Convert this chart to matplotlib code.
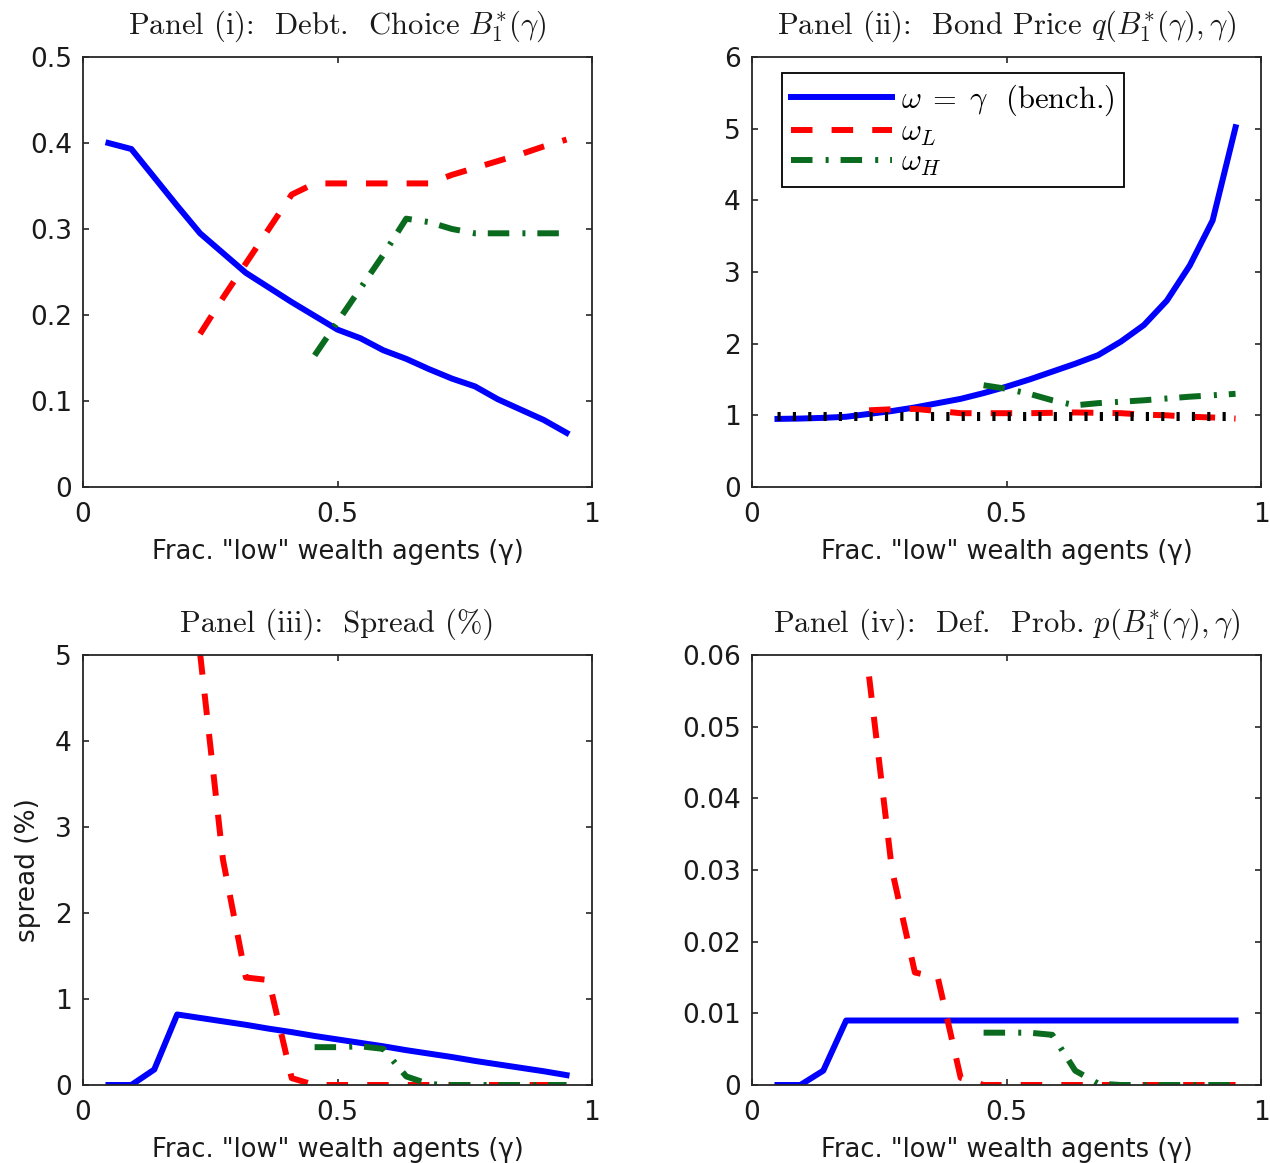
import matplotlib.pyplot as plt
import numpy as np

plt.rcParams['mathtext.fontset'] = 'cm'
plt.rcParams['font.family'] = 'DejaVu Sans'

# grid of gamma values (fraction of "low" wealth agents)
gamma = [0.05, 0.095, 0.14, 0.185, 0.23, 0.275, 0.32, 0.365, 0.41, 0.455, 0.5,
         0.545, 0.59, 0.635, 0.68, 0.725, 0.77, 0.815, 0.86, 0.905, 0.95]
gamma_L = gamma[4:]   # omega_L solved from gamma = 0.23
gamma_H = gamma[9:]   # omega_H solved from gamma = 0.455

# Panel (i): debt choice
debt_bench = [0.400, 0.393, 0.360, 0.327, 0.295, 0.272, 0.249, 0.232, 0.215, 0.199, 0.183,
              0.173, 0.159, 0.149, 0.137, 0.126, 0.117, 0.102, 0.090, 0.078, 0.063]
debt_L = [0.178, 0.220, 0.260, 0.300, 0.340, 0.353, 0.353, 0.353, 0.353, 0.353, 0.353,
          0.363, 0.371, 0.379, 0.387, 0.396, 0.404]
debt_H = [0.153, 0.192, 0.231, 0.270, 0.312, 0.308, 0.300, 0.295, 0.295, 0.295, 0.295, 0.295]

# Panel (ii): bond price
price_bench = [0.95, 0.955, 0.965, 0.98, 1.02, 1.06, 1.11, 1.17, 1.23, 1.31, 1.40,
               1.50, 1.61, 1.72, 1.84, 2.03, 2.26, 2.60, 3.09, 3.72, 5.02]
price_L = [1.07, 1.085, 1.09, 1.06, 1.03, 1.03, 1.03, 1.03, 1.035, 1.04, 1.035,
           1.03, 1.01, 1.00, 0.98, 0.97, 0.955]
price_H = [1.42, 1.37, 1.30, 1.21, 1.14, 1.17, 1.19, 1.21, 1.235, 1.26, 1.28, 1.30]
price_rf = [0.99] * len(gamma)

# Panel (iii): spread (%)
spread_bench = [0, 0, 0.18, 0.82, 0.78, 0.74, 0.70, 0.655, 0.615, 0.57, 0.53,
                0.49, 0.45, 0.405, 0.365, 0.325, 0.28, 0.24, 0.20, 0.16, 0.115]
spread_L = [5.02, 2.62, 1.25, 1.22, 0.08, 0, 0, 0, 0, 0, 0, 0, 0, 0, 0, 0, 0]
spread_H = [0.44, 0.44, 0.45, 0.42, 0.10, 0.01, 0, 0, 0, 0, 0, 0]

# Panel (iv): default probability
prob_bench = [0, 0, 0.002, 0.009, 0.009, 0.009, 0.009, 0.009, 0.009, 0.009, 0.009,
              0.009, 0.009, 0.009, 0.009, 0.009, 0.009, 0.009, 0.009, 0.009, 0.009]
prob_L = [0.057, 0.030, 0.0157, 0.0150, 0.0010, 0, 0, 0, 0, 0, 0, 0, 0, 0, 0, 0, 0]
prob_H = [0.0073, 0.0073, 0.0073, 0.0070, 0.0020, 0.0002, 0, 0, 0, 0, 0, 0]

titles = [r'Panel (i):  Debt.  Choice $B_1^{*}(\gamma)$',
          r'Panel (ii):  Bond Price $q(B_1^{*}(\gamma),\gamma)$',
          r'Panel (iii):  Spread (%)',
          r'Panel (iv):  Def.  Prob. $p(B_1^{*}(\gamma),\gamma)$']
legend_labels = [r'$\omega\;=\;\gamma$  (bench.)', r'$\omega_L$', r'$\omega_H$']
xlabel = 'Frac. "low" wealth agents (\u03b3)'

blue = '#0000ff'
red = '#ff0000'
green = '#0a6b1f'
edge = '#262626'
txt = '#1a1a1a'
lw = 4.3

W, H = 1270, 1163
fig = plt.figure(figsize=(W / 100, H / 100), dpi=100)


def make_axes(left, top):
    return fig.add_axes([left / W, (H - top - 430) / H, 509 / W, 430 / H])


ax1 = make_axes(83, 57)
ax2 = make_axes(752, 57)
ax3 = make_axes(83, 655)
ax4 = make_axes(752, 655)

dash = (0, (3.6, 3.2))
dashdot = (0, (3.6, 2.2, 0.5, 2.0))

ax1.plot(gamma, debt_bench, color=blue, lw=lw)
ax1.plot(gamma_L, debt_L, color=red, lw=lw, linestyle=dash)
ax1.plot(gamma_H, debt_H, color=green, lw=lw, linestyle=dashdot)

ax2.plot(gamma, price_bench, color=blue, lw=lw, label=legend_labels[0])
ax2.plot(gamma_L, price_L, color=red, lw=lw, linestyle=dash, label=legend_labels[1])
ax2.plot(gamma_H, price_H, color=green, lw=lw, linestyle=dashdot, label=legend_labels[2])
ax2.plot(gamma, price_rf, color='black', lw=6.5, linestyle=(0, (0.35, 1.35)),
         dash_capstyle='butt')

ax3.plot(gamma, spread_bench, color=blue, lw=lw)
ax3.plot(gamma_L, spread_L, color=red, lw=lw, linestyle=dash)
ax3.plot(gamma_H, spread_H, color=green, lw=lw, linestyle=dashdot)

ax4.plot(gamma, prob_bench, color=blue, lw=lw)
ax4.plot(gamma_L, prob_L, color=red, lw=lw, linestyle=dash)
ax4.plot(gamma_H, prob_H, color=green, lw=lw, linestyle=dashdot)

yticks = [[0, 0.1, 0.2, 0.3, 0.4, 0.5],
          [0, 1, 2, 3, 4, 5, 6],
          [0, 1, 2, 3, 4, 5],
          [0, 0.01, 0.02, 0.03, 0.04, 0.05, 0.06]]
ylabels = [['0', '0.1', '0.2', '0.3', '0.4', '0.5'],
           ['0', '1', '2', '3', '4', '5', '6'],
           ['0', '1', '2', '3', '4', '5'],
           ['0', '0.01', '0.02', '0.03', '0.04', '0.05', '0.06']]

for ax, title, yt, yl in zip([ax1, ax2, ax3, ax4], titles, yticks, ylabels):
    ax.set_xlim(0, 1)
    ax.set_ylim(yt[0], yt[-1])
    ax.set_xticks([0, 0.5, 1])
    ax.set_xticklabels(['0', '0.5', '1'])
    ax.set_yticks(yt)
    ax.set_yticklabels(yl)
    ax.tick_params(direction='in', length=4, width=1.2, colors=edge, labelcolor=txt,
                   labelsize=19, top=True, right=True)
    ax.tick_params(axis='x', pad=11)
    ax.tick_params(axis='y', pad=8)
    for sp in ax.spines.values():
        sp.set_color(edge)
        sp.set_linewidth(1.3)
    ax.set_title(title, fontsize=22, color=txt, pad=17, fontfamily='cmr10')
    ax.set_xlabel(xlabel, fontsize=18.5, color=txt, labelpad=8)

ax3.set_ylabel('spread (%)', fontsize=19, color=txt, labelpad=10)

leg = ax2.legend(loc='upper left', bbox_to_anchor=(0.059, 0.962), borderaxespad=0,
                 prop={'family': 'cmr10', 'size': 22}, handlelength=3.3,
                 handletextpad=0.3, labelspacing=0.05, borderpad=0.3,
                 fancybox=False, framealpha=1)
leg.get_frame().set_edgecolor('black')
leg.get_frame().set_linewidth(1.3)

fig.savefig('out.png', dpi=100)
